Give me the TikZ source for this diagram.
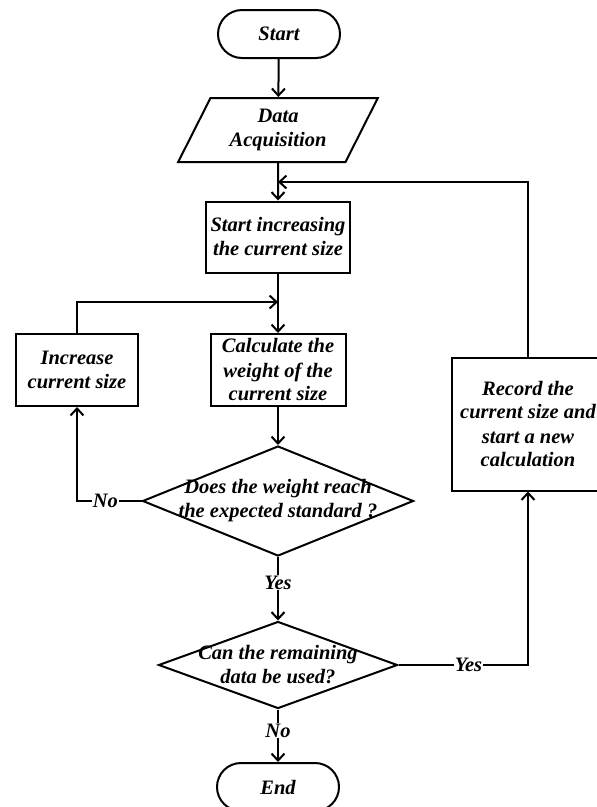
\documentclass[tikz,border=0pt]{standalone}
\usepackage{fontspec}
\setmainfont{Liberation Serif}
\usetikzlibrary{positioning}
\usetikzlibrary{shapes.geometric}
\usetikzlibrary{arrows.meta}

\begin{document}
\begin{tikzpicture}[x = 1pt, y = -1pt, line width = 2pt,
    >={Straight Barb[length=7pt, width=13pt]},
    every node/.style = {font = \fontsize{20.5}{24}\selectfont\bfseries\itshape, align = center},
    terminal/.style = {draw, rounded corners = 24pt, minimum width = 122pt, minimum height = 48pt},
    io/.style = {draw, trapezium, trapezium left angle = 61, trapezium right angle = 119, trapezium stretches = true, minimum width = 200pt, minimum height = 64pt, inner sep = 0pt},
    process/.style = {draw, rectangle, inner sep = 0pt, minimum height = 72pt},
    decision/.style = {draw, diamond, inner sep = 0pt},
    tag/.style = {fill = white, inner sep = 1pt}]
    \useasboundingbox (0, 0) rectangle (597, 807);
    \node [terminal] (start) at (279, 34) {Start};
    \node [io] (data) at (278, 130) {Data\\Acquisition};
    \node [process, minimum width = 144pt, minimum height = 71pt] (incr) at (278, 237) {Start increasing\\the current size};
    \node [process, minimum width = 135pt] (calc) at (278, 370) {Calculate the\\weight of the\\current size};
    \node [process, minimum width = 122pt] (grow) at (77, 370) {Increase\\current size};
    \node [process, minimum width = 152pt, minimum height = 133pt] (record) at (528, 424) {Record the\\current size and\\start a new\\calculation};
    \node [decision, minimum width = 271pt, minimum height = 110pt] (check) at (278, 501) {};
    \node (checktext) at (check) {Does the weight reach\\the expected standard ?};
    \node [decision, minimum width = 239pt, minimum height = 87pt] (more) at (278, 665) {};
    \node (moretext) at (more) {Can the remaining\\data be used?};
    \node [terminal] (end) at (278, 787) {End};
    \coordinate (loop) at (278, 182);
    \coordinate (back) at (278, 302);
    % main line
    \draw [->] (start) -- (data);
    \draw [->] (data) -- (incr);
    \draw [->] (incr) -- (calc);
    \draw [->] (calc) -- (check);
    \draw [->] (check) -- node [tag, pos = 0.4] {Yes} (more);
    \draw [->] (more) -- node [tag, pos = 0.4] {No} (end);
    % loops
    \draw [->] (check.west) -| node [tag, pos = 0.28] {No} (grow.south);
    \draw [->] (grow.north) |- (back);
    \draw [->] (more.east) -| node [tag, pos = 0.27] {Yes} (record.south);
    \draw [->] (record.north) |- (loop);
\end{tikzpicture}
\end{document}
